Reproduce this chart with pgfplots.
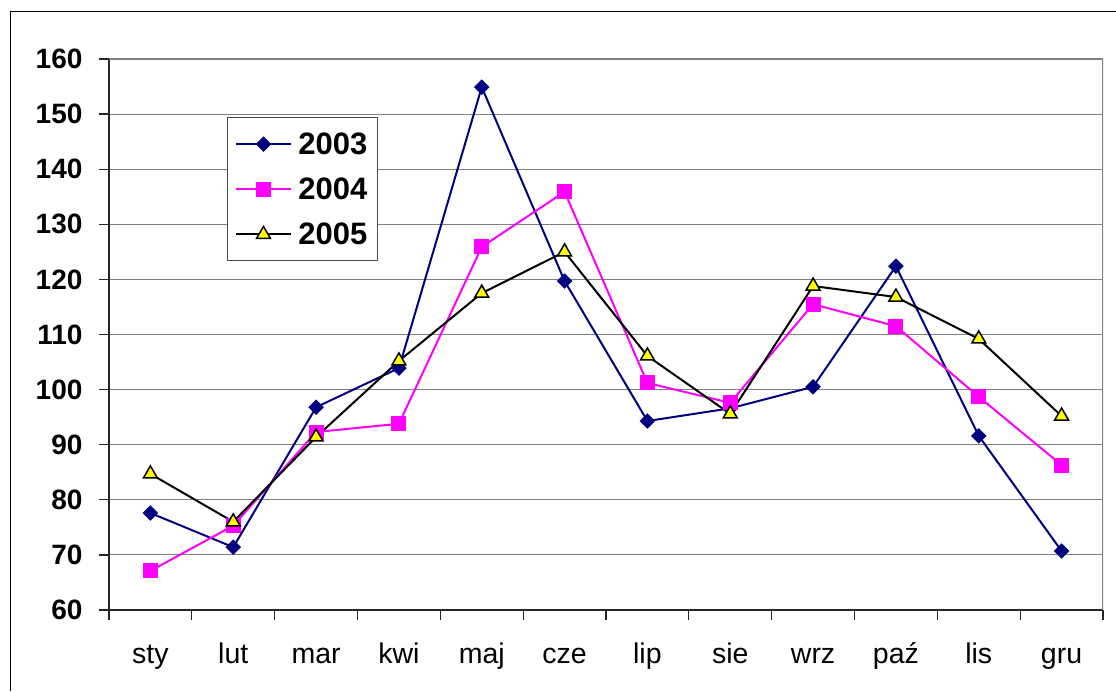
\documentclass[border=0pt]{standalone}
\usepackage{fontspec}
\setmainfont{Liberation Sans}
\usepackage{pgfplots}
\pgfplotsset{compat=1.18}
\definecolor{navyc}{RGB}{0,0,128}
\definecolor{magc}{RGB}{255,0,255}
\definecolor{yelc}{RGB}{255,255,0}
\definecolor{gridc}{RGB}{128,128,128}
\begin{document}
\begin{tikzpicture}[x=1pt,y=1pt]
\path[use as bounding box] (0,0) rectangle (1116,691);
\draw[black, line width=1.2pt] (10.5,0) -- (10.5,679.5) -- (1116,679.5);
\begin{axis}[
  at={(109pt,81pt)}, anchor=south west,
  scale only axis, width=994pt, height=551pt,
  xmin=-0.5, xmax=11.5, ymin=60, ymax=160,
  xtick={-0.5,0.5,...,11.5},
  x tick label as interval,
  xticklabels={sty,lut,mar,kwi,maj,cze,lip,sie,wrz,paź,lis,gru},
  ytick={60,70,...,160},
  ymajorgrids, major grid style={gridc, line width=1pt},
  axis x line*=bottom, axis y line*=left,
  axis line style={black!85, line width=1.2pt},
  tick align=outside, major tick length=10pt,
  tick style={black!85, line width=1.2pt},
  /pgf/number format/assume math mode=true,
  yticklabel style={font=\fontsize{28}{28}\selectfont\bfseries, xshift=-13pt},
  xticklabel style={font=\fontsize{28.5}{28.5}\selectfont, text height=20pt, text depth=6pt, yshift=-20pt},
  legend entries={2003,2004,2005},
  legend cell align=left,
  legend style={at={(0.1187,0.8947)}, anchor=north west, draw=black!70, line width=1pt,
    font=\fontsize{31}{31}\selectfont\bfseries, row sep=18pt, inner xsep=8pt, inner ysep=13pt, column sep=4pt},
  legend image code/.code={\draw[mark repeat=2,mark phase=2] plot coordinates {(0pt,0pt) (27pt,0pt) (55pt,0pt)};},
]
\draw[gridc, line width=2pt] (rel axis cs:0,1) -- (rel axis cs:1,1) -- (rel axis cs:1,0);
\addplot[navyc, line width=2pt, mark=square*, mark size=5pt, mark options={rotate=45, fill=navyc, draw=navyc, line width=1pt}] coordinates {
(0,77.6) (1,71.4) (2,96.8) (3,103.9) (4,154.9) (5,119.7) (6,94.3) (7,96.6) (8,100.5) (9,122.4) (10,91.6) (11,70.7)};
\addplot[magc, line width=2pt, mark=square*, mark size=7pt, mark options={fill=magc, draw=magc, line width=1pt}] coordinates {
(0,67.1) (1,75.3) (2,92.3) (3,93.8) (4,125.9) (5,135.9) (6,101.2) (7,97.6) (8,115.5) (9,111.5) (10,98.7) (11,86.3)};
\addplot[black, line width=2pt, mark=triangle*, mark size=8pt, mark options={fill=yelc, draw=black, line width=1.5pt}] coordinates {
(0,84.7) (1,76.0) (2,91.4) (3,105.2) (4,117.5) (5,125.0) (6,106.1) (7,95.6) (8,118.8) (9,116.8) (10,109.2) (11,95.2)};
\end{axis}
\end{tikzpicture}
\end{document}
